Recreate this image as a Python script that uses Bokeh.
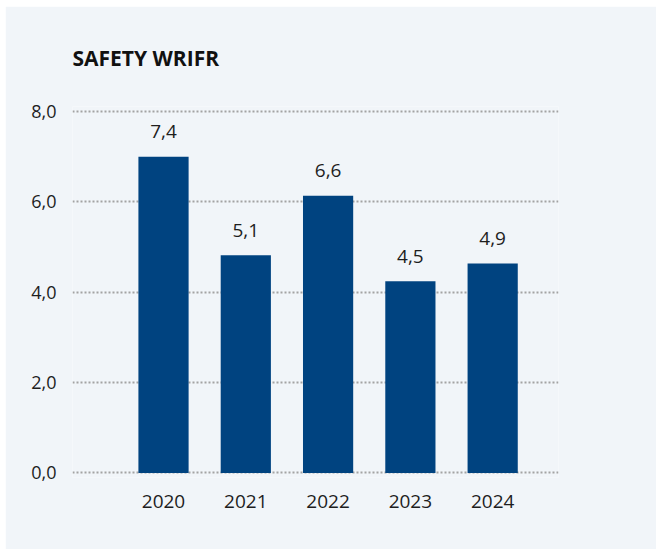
from bokeh.plotting import figure
from bokeh.models import Range1d, FixedTicker, ColumnDataSource, LabelSet
from bokeh.core.properties import value
from bokeh.embed import file_html
from bokeh.resources import INLINE

# ---- data ----
years = ["2020", "2021", "2022", "2023", "2024"]
value_labels = ["7,4", "5,1", "6,6", "4,5", "4,9"]
bar_heights = [6.99, 4.81, 6.13, 4.24, 4.63]   # bar heights as drawn in the reference
y_ticks = [0, 2, 4, 6, 8]
y_tick_labels = ["0,0", "2,0", "4,0", "6,0", "8,0"]
title_text = "SAFETY WRIFR"

BG = "#f1f5f9"
BAR = "#004380"
TXT = "#1e1e1e"
FONT = "Open Sans"

xs = list(range(len(years)))
src = ColumnDataSource(dict(x=xs, top=bar_heights, lab=value_labels))

p = figure(width=651, height=543, output_backend="svg", toolbar_location=None,
           x_range=Range1d(-1.106, 4.80), y_range=Range1d(-0.1, 8.1),
           min_border_left=67, min_border_right=98, min_border_top=99,
           min_border_bottom=72)
p.margin = (6, 0, 0, 5)
p.background_fill_color = BG
p.border_fill_color = BG
p.outline_line_color = None

p.title.text = title_text
p.title.text_font = FONT
p.title.text_font_style = "bold"
p.title.text_font_size = "21px"
p.title.text_color = "#111111"
p.title.align = "left"
p.title.standoff = 70

p.vbar(x="x", top="top", bottom=0, width=0.61, source=src,
       fill_color=BAR, line_color=None)

labels = LabelSet(x="x", y="top", text="lab", source=src, text_align="center",
                  text_baseline="alphabetic", y_offset=18.5, text_font=value(FONT),
                  text_font_size=value("19px"), text_color=TXT)
p.add_layout(labels)

# axes
p.xaxis.ticker = FixedTicker(ticks=xs)
p.xaxis.major_label_overrides = {i: y for i, y in enumerate(years)}
p.yaxis.ticker = FixedTicker(ticks=y_ticks)
p.yaxis.major_label_overrides = {t: l for t, l in zip(y_ticks, y_tick_labels)}
for ax in (p.xaxis, p.yaxis):
    ax.axis_line_color = None
    ax.major_tick_line_color = None
    ax.minor_tick_line_color = None
    ax.major_label_text_font = FONT
    ax.major_label_text_color = TXT
p.xaxis.major_label_text_font_size = "19px"
p.yaxis.major_label_text_font_size = "18px"
p.xaxis.major_label_standoff = 11
p.yaxis.major_label_standoff = 10

p.xgrid.grid_line_color = None
p.ygrid.grid_line_color = "#a3a3a3"
p.ygrid.grid_line_width = 2
p.ygrid.grid_line_dash = "2 2"

open("out.html", "w").write(file_html(p, INLINE))
